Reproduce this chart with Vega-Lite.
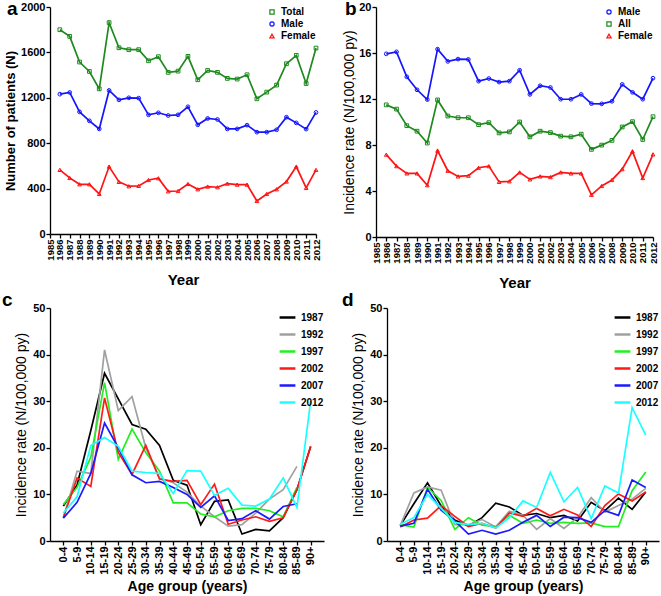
{
  "$schema": "https://vega.github.io/schema/vega-lite/v6.json",
  "background": "white",
  "padding": {"left": 2, "top": 0, "right": 2, "bottom": 0},
  "spacing": 0,
  "config": {
    "font": "Liberation Sans",
    "view": {"stroke": null},
    "axis": {"grid": false, "domainColor": "black", "tickColor": "black", "labelColor": "black", "titleColor": "black", "labelFontWeight": "bold", "titleFontWeight": "bold", "labelFontSize": 11, "titleFontSize": 13, "domainWidth": 1.3, "tickWidth": 1.3, "tickSize": 4, "labelPadding": 1, "labelOverlap": false},
    "legend": {"orient": "top-right", "offset": 0, "title": null, "labelFontSize": 10, "labelFontWeight": "bold", "labelColor": "black", "rowPadding": 2, "padding": 0},
    "title": {"fontSize": 19, "fontWeight": "bold", "anchor": "start", "frame": "group", "color": "black"}
  },
  "resolve": {"scale": {"color": "independent", "shape": "independent"}, "legend": {"color": "independent", "shape": "independent"}},
  "datasets": {
    "a": [
      {"year": 1986, "series": "Total", "value": 1800}, {"year": 1987, "series": "Total", "value": 1741}, {"year": 1988, "series": "Total", "value": 1515}, {"year": 1989, "series": "Total", "value": 1432}, {"year": 1990, "series": "Total", "value": 1279}, {"year": 1991, "series": "Total", "value": 1862}, {"year": 1992, "series": "Total", "value": 1641}, {"year": 1993, "series": "Total", "value": 1624}, {"year": 1994, "series": "Total", "value": 1624}, {"year": 1995, "series": "Total", "value": 1526}, {"year": 1996, "series": "Total", "value": 1562}, {"year": 1997, "series": "Total", "value": 1424}, {"year": 1998, "series": "Total", "value": 1435}, {"year": 1999, "series": "Total", "value": 1565}, {"year": 2000, "series": "Total", "value": 1359}, {"year": 2001, "series": "Total", "value": 1441}, {"year": 2002, "series": "Total", "value": 1424}, {"year": 2003, "series": "Total", "value": 1371}, {"year": 2004, "series": "Total", "value": 1365}, {"year": 2005, "series": "Total", "value": 1403}, {"year": 2006, "series": "Total", "value": 1191}, {"year": 2007, "series": "Total", "value": 1250}, {"year": 2008, "series": "Total", "value": 1312}, {"year": 2009, "series": "Total", "value": 1500}, {"year": 2010, "series": "Total", "value": 1574}, {"year": 2011, "series": "Total", "value": 1326}, {"year": 2012, "series": "Total", "value": 1638},
      {"year": 1986, "series": "Male", "value": 1232}, {"year": 1987, "series": "Male", "value": 1247}, {"year": 1988, "series": "Male", "value": 1076}, {"year": 1989, "series": "Male", "value": 997}, {"year": 1990, "series": "Male", "value": 926}, {"year": 1991, "series": "Male", "value": 1265}, {"year": 1992, "series": "Male", "value": 1182}, {"year": 1993, "series": "Male", "value": 1200}, {"year": 1994, "series": "Male", "value": 1197}, {"year": 1995, "series": "Male", "value": 1050}, {"year": 1996, "series": "Male", "value": 1068}, {"year": 1997, "series": "Male", "value": 1044}, {"year": 1998, "series": "Male", "value": 1050}, {"year": 1999, "series": "Male", "value": 1121}, {"year": 2000, "series": "Male", "value": 962}, {"year": 2001, "series": "Male", "value": 1018}, {"year": 2002, "series": "Male", "value": 1009}, {"year": 2003, "series": "Male", "value": 926}, {"year": 2004, "series": "Male", "value": 926}, {"year": 2005, "series": "Male", "value": 959}, {"year": 2006, "series": "Male", "value": 897}, {"year": 2007, "series": "Male", "value": 897}, {"year": 2008, "series": "Male", "value": 918}, {"year": 2009, "series": "Male", "value": 1029}, {"year": 2010, "series": "Male", "value": 979}, {"year": 2011, "series": "Male", "value": 924}, {"year": 2012, "series": "Male", "value": 1071},
      {"year": 1986, "series": "Female", "value": 565}, {"year": 1987, "series": "Female", "value": 494}, {"year": 1988, "series": "Female", "value": 438}, {"year": 1989, "series": "Female", "value": 438}, {"year": 1990, "series": "Female", "value": 353}, {"year": 1991, "series": "Female", "value": 594}, {"year": 1992, "series": "Female", "value": 459}, {"year": 1993, "series": "Female", "value": 421}, {"year": 1994, "series": "Female", "value": 424}, {"year": 1995, "series": "Female", "value": 476}, {"year": 1996, "series": "Female", "value": 491}, {"year": 1997, "series": "Female", "value": 376}, {"year": 1998, "series": "Female", "value": 379}, {"year": 1999, "series": "Female", "value": 441}, {"year": 2000, "series": "Female", "value": 394}, {"year": 2001, "series": "Female", "value": 418}, {"year": 2002, "series": "Female", "value": 412}, {"year": 2003, "series": "Female", "value": 444}, {"year": 2004, "series": "Female", "value": 435}, {"year": 2005, "series": "Female", "value": 435}, {"year": 2006, "series": "Female", "value": 291}, {"year": 2007, "series": "Female", "value": 353}, {"year": 2008, "series": "Female", "value": 394}, {"year": 2009, "series": "Female", "value": 462}, {"year": 2010, "series": "Female", "value": 594}, {"year": 2011, "series": "Female", "value": 406}, {"year": 2012, "series": "Female", "value": 565}
    ],
    "b": [
      {"year": 1986, "series": "Male", "value": 15.93}, {"year": 1987, "series": "Male", "value": 16.1}, {"year": 1988, "series": "Male", "value": 13.93}, {"year": 1989, "series": "Male", "value": 12.8}, {"year": 1990, "series": "Male", "value": 11.95}, {"year": 1991, "series": "Male", "value": 16.33}, {"year": 1992, "series": "Male", "value": 15.27}, {"year": 1993, "series": "Male", "value": 15.47}, {"year": 1994, "series": "Male", "value": 15.44}, {"year": 1995, "series": "Male", "value": 13.55}, {"year": 1996, "series": "Male", "value": 13.78}, {"year": 1997, "series": "Male", "value": 13.47}, {"year": 1998, "series": "Male", "value": 13.55}, {"year": 1999, "series": "Male", "value": 14.5}, {"year": 2000, "series": "Male", "value": 12.4}, {"year": 2001, "series": "Male", "value": 13.15}, {"year": 2002, "series": "Male", "value": 13.0}, {"year": 2003, "series": "Male", "value": 11.98}, {"year": 2004, "series": "Male", "value": 11.98}, {"year": 2005, "series": "Male", "value": 12.4}, {"year": 2006, "series": "Male", "value": 11.6}, {"year": 2007, "series": "Male", "value": 11.58}, {"year": 2008, "series": "Male", "value": 11.8}, {"year": 2009, "series": "Male", "value": 13.27}, {"year": 2010, "series": "Male", "value": 12.58}, {"year": 2011, "series": "Male", "value": 11.98}, {"year": 2012, "series": "Male", "value": 13.81},
      {"year": 1986, "series": "All", "value": 11.49}, {"year": 1987, "series": "All", "value": 11.12}, {"year": 1988, "series": "All", "value": 9.68}, {"year": 1989, "series": "All", "value": 9.2}, {"year": 1990, "series": "All", "value": 8.17}, {"year": 1991, "series": "All", "value": 11.92}, {"year": 1992, "series": "All", "value": 10.52}, {"year": 1993, "series": "All", "value": 10.37}, {"year": 1994, "series": "All", "value": 10.37}, {"year": 1995, "series": "All", "value": 9.77}, {"year": 1996, "series": "All", "value": 9.94}, {"year": 1997, "series": "All", "value": 9.05}, {"year": 1998, "series": "All", "value": 9.14}, {"year": 1999, "series": "All", "value": 10.0}, {"year": 2000, "series": "All", "value": 8.71}, {"year": 2001, "series": "All", "value": 9.2}, {"year": 2002, "series": "All", "value": 9.08}, {"year": 2003, "series": "All", "value": 8.77}, {"year": 2004, "series": "All", "value": 8.71}, {"year": 2005, "series": "All", "value": 8.94}, {"year": 2006, "series": "All", "value": 7.62}, {"year": 2007, "series": "All", "value": 7.99}, {"year": 2008, "series": "All", "value": 8.4}, {"year": 2009, "series": "All", "value": 9.57}, {"year": 2010, "series": "All", "value": 10.03}, {"year": 2011, "series": "All", "value": 8.48}, {"year": 2012, "series": "All", "value": 10.46},
      {"year": 1986, "series": "Female", "value": 7.16}, {"year": 1987, "series": "Female", "value": 6.16}, {"year": 1988, "series": "Female", "value": 5.53}, {"year": 1989, "series": "Female", "value": 5.53}, {"year": 1990, "series": "Female", "value": 4.5}, {"year": 1991, "series": "Female", "value": 7.51}, {"year": 1992, "series": "Female", "value": 5.76}, {"year": 1993, "series": "Female", "value": 5.27}, {"year": 1994, "series": "Female", "value": 5.33}, {"year": 1995, "series": "Female", "value": 6.02}, {"year": 1996, "series": "Female", "value": 6.16}, {"year": 1997, "series": "Female", "value": 4.79}, {"year": 1998, "series": "Female", "value": 4.84}, {"year": 1999, "series": "Female", "value": 5.62}, {"year": 2000, "series": "Female", "value": 5.01}, {"year": 2001, "series": "Female", "value": 5.27}, {"year": 2002, "series": "Female", "value": 5.21}, {"year": 2003, "series": "Female", "value": 5.62}, {"year": 2004, "series": "Female", "value": 5.53}, {"year": 2005, "series": "Female", "value": 5.53}, {"year": 2006, "series": "Female", "value": 3.67}, {"year": 2007, "series": "Female", "value": 4.44}, {"year": 2008, "series": "Female", "value": 4.96}, {"year": 2009, "series": "Female", "value": 5.9}, {"year": 2010, "series": "Female", "value": 7.45}, {"year": 2011, "series": "Female", "value": 5.13}, {"year": 2012, "series": "Female", "value": 7.19}
    ],
    "c": [
      {"age": "0-4", "cohort": "1987", "value": 7.5}, {"age": "5-9", "cohort": "1987", "value": 12}, {"age": "10-14", "cohort": "1987", "value": 23.7}, {"age": "15-19", "cohort": "1987", "value": 36}, {"age": "20-24", "cohort": "1987", "value": 30.5}, {"age": "25-29", "cohort": "1987", "value": 25}, {"age": "30-34", "cohort": "1987", "value": 24}, {"age": "35-39", "cohort": "1987", "value": 20.5}, {"age": "40-44", "cohort": "1987", "value": 13}, {"age": "45-49", "cohort": "1987", "value": 12}, {"age": "50-54", "cohort": "1987", "value": 3.5}, {"age": "55-59", "cohort": "1987", "value": 8.5}, {"age": "60-64", "cohort": "1987", "value": 8.8}, {"age": "65-69", "cohort": "1987", "value": 1.5}, {"age": "70-74", "cohort": "1987", "value": 2.5}, {"age": "75-79", "cohort": "1987", "value": 2.2}, {"age": "80-84", "cohort": "1987", "value": 5}, {"age": "85-89", "cohort": "1987", "value": 11}, {"age": "90+", "cohort": "1987", "value": 20.3},
      {"age": "0-4", "cohort": "1992", "value": 5}, {"age": "5-9", "cohort": "1992", "value": 15}, {"age": "10-14", "cohort": "1992", "value": 14.5}, {"age": "15-19", "cohort": "1992", "value": 41}, {"age": "20-24", "cohort": "1992", "value": 28}, {"age": "25-29", "cohort": "1992", "value": 31}, {"age": "30-34", "cohort": "1992", "value": 20}, {"age": "35-39", "cohort": "1992", "value": 13.5}, {"age": "40-44", "cohort": "1992", "value": 12.5}, {"age": "45-49", "cohort": "1992", "value": 10.5}, {"age": "50-54", "cohort": "1992", "value": 7.5}, {"age": "55-59", "cohort": "1992", "value": 5.2}, {"age": "60-64", "cohort": "1992", "value": 3.2}, {"age": "65-69", "cohort": "1992", "value": 3.5}, {"age": "70-74", "cohort": "1992", "value": 6}, {"age": "75-79", "cohort": "1992", "value": 9}, {"age": "80-84", "cohort": "1992", "value": 11}, {"age": "85-89", "cohort": "1992", "value": 16},
      {"age": "0-4", "cohort": "1997", "value": 7.8}, {"age": "5-9", "cohort": "1997", "value": 11.5}, {"age": "10-14", "cohort": "1997", "value": 18}, {"age": "15-19", "cohort": "1997", "value": 34}, {"age": "20-24", "cohort": "1997", "value": 17.5}, {"age": "25-29", "cohort": "1997", "value": 24}, {"age": "30-34", "cohort": "1997", "value": 19}, {"age": "35-39", "cohort": "1997", "value": 15}, {"age": "40-44", "cohort": "1997", "value": 8.2}, {"age": "45-49", "cohort": "1997", "value": 8.2}, {"age": "50-54", "cohort": "1997", "value": 5.8}, {"age": "55-59", "cohort": "1997", "value": 5.2}, {"age": "60-64", "cohort": "1997", "value": 6.5}, {"age": "65-69", "cohort": "1997", "value": 7}, {"age": "70-74", "cohort": "1997", "value": 7}, {"age": "75-79", "cohort": "1997", "value": 6.5}, {"age": "80-84", "cohort": "1997", "value": 5.2}, {"age": "85-89", "cohort": "1997", "value": 11.5},
      {"age": "0-4", "cohort": "2002", "value": 5}, {"age": "5-9", "cohort": "2002", "value": 13.5}, {"age": "10-14", "cohort": "2002", "value": 11.7}, {"age": "15-19", "cohort": "2002", "value": 30.7}, {"age": "20-24", "cohort": "2002", "value": 19}, {"age": "25-29", "cohort": "2002", "value": 14.3}, {"age": "30-34", "cohort": "2002", "value": 20.5}, {"age": "35-39", "cohort": "2002", "value": 13.3}, {"age": "40-44", "cohort": "2002", "value": 12.8}, {"age": "45-49", "cohort": "2002", "value": 13}, {"age": "50-54", "cohort": "2002", "value": 7.8}, {"age": "55-59", "cohort": "2002", "value": 12.2}, {"age": "60-64", "cohort": "2002", "value": 3.6}, {"age": "65-69", "cohort": "2002", "value": 4.5}, {"age": "70-74", "cohort": "2002", "value": 5.2}, {"age": "75-79", "cohort": "2002", "value": 4.2}, {"age": "80-84", "cohort": "2002", "value": 5}, {"age": "85-89", "cohort": "2002", "value": 11}, {"age": "90+", "cohort": "2002", "value": 20.3},
      {"age": "0-4", "cohort": "2007", "value": 4.9}, {"age": "5-9", "cohort": "2007", "value": 8.3}, {"age": "10-14", "cohort": "2007", "value": 14.5}, {"age": "15-19", "cohort": "2007", "value": 25.3}, {"age": "20-24", "cohort": "2007", "value": 20}, {"age": "25-29", "cohort": "2007", "value": 14.2}, {"age": "30-34", "cohort": "2007", "value": 12.5}, {"age": "35-39", "cohort": "2007", "value": 12.8}, {"age": "40-44", "cohort": "2007", "value": 11.5}, {"age": "45-49", "cohort": "2007", "value": 10}, {"age": "50-54", "cohort": "2007", "value": 7.2}, {"age": "55-59", "cohort": "2007", "value": 9.7}, {"age": "60-64", "cohort": "2007", "value": 4.4}, {"age": "65-69", "cohort": "2007", "value": 4.8}, {"age": "70-74", "cohort": "2007", "value": 6.5}, {"age": "75-79", "cohort": "2007", "value": 4.7}, {"age": "80-84", "cohort": "2007", "value": 7.4}, {"age": "85-89", "cohort": "2007", "value": 8},
      {"age": "0-4", "cohort": "2012", "value": 6}, {"age": "5-9", "cohort": "2012", "value": 9.5}, {"age": "10-14", "cohort": "2012", "value": 20.5}, {"age": "15-19", "cohort": "2012", "value": 22.2}, {"age": "20-24", "cohort": "2012", "value": 20.3}, {"age": "25-29", "cohort": "2012", "value": 15}, {"age": "30-34", "cohort": "2012", "value": 14.7}, {"age": "35-39", "cohort": "2012", "value": 14.5}, {"age": "40-44", "cohort": "2012", "value": 10.2}, {"age": "45-49", "cohort": "2012", "value": 15.1}, {"age": "50-54", "cohort": "2012", "value": 15}, {"age": "55-59", "cohort": "2012", "value": 9.8}, {"age": "60-64", "cohort": "2012", "value": 11.3}, {"age": "65-69", "cohort": "2012", "value": 7.7}, {"age": "70-74", "cohort": "2012", "value": 7.5}, {"age": "75-79", "cohort": "2012", "value": 9}, {"age": "80-84", "cohort": "2012", "value": 13.5}, {"age": "85-89", "cohort": "2012", "value": 7.2}, {"age": "90+", "cohort": "2012", "value": 30}
    ],
    "d": [
      {"age": "0-4", "cohort": "1987", "value": 3.3}, {"age": "5-9", "cohort": "1987", "value": 8}, {"age": "10-14", "cohort": "1987", "value": 12.5}, {"age": "15-19", "cohort": "1987", "value": 7.5}, {"age": "20-24", "cohort": "1987", "value": 4.5}, {"age": "25-29", "cohort": "1987", "value": 3.2}, {"age": "30-34", "cohort": "1987", "value": 5}, {"age": "35-39", "cohort": "1987", "value": 8.1}, {"age": "40-44", "cohort": "1987", "value": 7.3}, {"age": "45-49", "cohort": "1987", "value": 5.5}, {"age": "50-54", "cohort": "1987", "value": 5.9}, {"age": "55-59", "cohort": "1987", "value": 5}, {"age": "60-64", "cohort": "1987", "value": 5.5}, {"age": "65-69", "cohort": "1987", "value": 4.3}, {"age": "70-74", "cohort": "1987", "value": 8.3}, {"age": "75-79", "cohort": "1987", "value": 6.5}, {"age": "80-84", "cohort": "1987", "value": 9.2}, {"age": "85-89", "cohort": "1987", "value": 6.8}, {"age": "90+", "cohort": "1987", "value": 10.5},
      {"age": "0-4", "cohort": "1992", "value": 3.3}, {"age": "5-9", "cohort": "1992", "value": 10.3}, {"age": "10-14", "cohort": "1992", "value": 11.6}, {"age": "15-19", "cohort": "1992", "value": 10.9}, {"age": "20-24", "cohort": "1992", "value": 3.5}, {"age": "25-29", "cohort": "1992", "value": 3.5}, {"age": "30-34", "cohort": "1992", "value": 4.6}, {"age": "35-39", "cohort": "1992", "value": 3}, {"age": "40-44", "cohort": "1992", "value": 6.4}, {"age": "45-49", "cohort": "1992", "value": 5.5}, {"age": "50-54", "cohort": "1992", "value": 2.5}, {"age": "55-59", "cohort": "1992", "value": 4.8}, {"age": "60-64", "cohort": "1992", "value": 2.7}, {"age": "65-69", "cohort": "1992", "value": 5}, {"age": "70-74", "cohort": "1992", "value": 9.3}, {"age": "75-79", "cohort": "1992", "value": 6.2}, {"age": "80-84", "cohort": "1992", "value": 7.6}, {"age": "85-89", "cohort": "1992", "value": 9}, {"age": "90+", "cohort": "1992", "value": 11.3},
      {"age": "0-4", "cohort": "1997", "value": 3.5}, {"age": "5-9", "cohort": "1997", "value": 3}, {"age": "10-14", "cohort": "1997", "value": 11.5}, {"age": "15-19", "cohort": "1997", "value": 8.7}, {"age": "20-24", "cohort": "1997", "value": 2.5}, {"age": "25-29", "cohort": "1997", "value": 5}, {"age": "30-34", "cohort": "1997", "value": 3.4}, {"age": "35-39", "cohort": "1997", "value": 3.1}, {"age": "40-44", "cohort": "1997", "value": 5.5}, {"age": "45-49", "cohort": "1997", "value": 3.8}, {"age": "50-54", "cohort": "1997", "value": 4.5}, {"age": "55-59", "cohort": "1997", "value": 3.8}, {"age": "60-64", "cohort": "1997", "value": 4}, {"age": "65-69", "cohort": "1997", "value": 3.8}, {"age": "70-74", "cohort": "1997", "value": 3.9}, {"age": "75-79", "cohort": "1997", "value": 3.1}, {"age": "80-84", "cohort": "1997", "value": 3.1}, {"age": "85-89", "cohort": "1997", "value": 10.8}, {"age": "90+", "cohort": "1997", "value": 14.8},
      {"age": "0-4", "cohort": "2002", "value": 3}, {"age": "5-9", "cohort": "2002", "value": 4.5}, {"age": "10-14", "cohort": "2002", "value": 4.9}, {"age": "15-19", "cohort": "2002", "value": 7.6}, {"age": "20-24", "cohort": "2002", "value": 5.3}, {"age": "25-29", "cohort": "2002", "value": 3.1}, {"age": "30-34", "cohort": "2002", "value": 3.8}, {"age": "35-39", "cohort": "2002", "value": 2.8}, {"age": "40-44", "cohort": "2002", "value": 6}, {"age": "45-49", "cohort": "2002", "value": 5.3}, {"age": "50-54", "cohort": "2002", "value": 7}, {"age": "55-59", "cohort": "2002", "value": 5.4}, {"age": "60-64", "cohort": "2002", "value": 6.8}, {"age": "65-69", "cohort": "2002", "value": 5.6}, {"age": "70-74", "cohort": "2002", "value": 3.1}, {"age": "75-79", "cohort": "2002", "value": 7.6}, {"age": "80-84", "cohort": "2002", "value": 10.1}, {"age": "85-89", "cohort": "2002", "value": 8.6}, {"age": "90+", "cohort": "2002", "value": 10.5},
      {"age": "0-4", "cohort": "2007", "value": 3.2}, {"age": "5-9", "cohort": "2007", "value": 3.8}, {"age": "10-14", "cohort": "2007", "value": 11.1}, {"age": "15-19", "cohort": "2007", "value": 6.6}, {"age": "20-24", "cohort": "2007", "value": 4.3}, {"age": "25-29", "cohort": "2007", "value": 1.5}, {"age": "30-34", "cohort": "2007", "value": 2.3}, {"age": "35-39", "cohort": "2007", "value": 1.5}, {"age": "40-44", "cohort": "2007", "value": 2.3}, {"age": "45-49", "cohort": "2007", "value": 4}, {"age": "50-54", "cohort": "2007", "value": 5.5}, {"age": "55-59", "cohort": "2007", "value": 3.1}, {"age": "60-64", "cohort": "2007", "value": 5.1}, {"age": "65-69", "cohort": "2007", "value": 5}, {"age": "70-74", "cohort": "2007", "value": 4}, {"age": "75-79", "cohort": "2007", "value": 6.5}, {"age": "80-84", "cohort": "2007", "value": 5.5}, {"age": "85-89", "cohort": "2007", "value": 13.1}, {"age": "90+", "cohort": "2007", "value": 11.5},
      {"age": "0-4", "cohort": "2012", "value": 3.6}, {"age": "5-9", "cohort": "2012", "value": 5}, {"age": "10-14", "cohort": "2012", "value": 10}, {"age": "15-19", "cohort": "2012", "value": 7}, {"age": "20-24", "cohort": "2012", "value": 4}, {"age": "25-29", "cohort": "2012", "value": 3.5}, {"age": "30-34", "cohort": "2012", "value": 3.8}, {"age": "35-39", "cohort": "2012", "value": 2.8}, {"age": "40-44", "cohort": "2012", "value": 5}, {"age": "45-49", "cohort": "2012", "value": 8.6}, {"age": "50-54", "cohort": "2012", "value": 7.2}, {"age": "55-59", "cohort": "2012", "value": 14.7}, {"age": "60-64", "cohort": "2012", "value": 8.4}, {"age": "65-69", "cohort": "2012", "value": 11.5}, {"age": "70-74", "cohort": "2012", "value": 4.8}, {"age": "75-79", "cohort": "2012", "value": 11.8}, {"age": "80-84", "cohort": "2012", "value": 10.3}, {"age": "85-89", "cohort": "2012", "value": 28.6}, {"age": "90+", "cohort": "2012", "value": 22.7}
    ]
  },
  "vconcat": [
    {
      "spacing": 21,
      "resolve": {"scale": {"color": "independent", "shape": "independent"}, "legend": {"color": "independent", "shape": "independent"}},
      "hconcat": [
        {
          "width": 266, "height": 227,
          "title": {"text": "a", "dx": -43, "offset": -18},
          "data": {"name": "a"},
          "encoding": {
            "x": {"field": "year", "type": "quantitative", "scale": {"domain": [1985, 2012], "nice": false, "zero": false},
              "axis": {"values": [1985,1986,1987,1988,1989,1990,1991,1992,1993,1994,1995,1996,1997,1998,1999,2000,2001,2002,2003,2004,2005,2006,2007,2008,2009,2010,2011,2012], "format": "d", "labelAngle": -90, "labelFontSize": 9.5, "title": "Year", "titleFontSize": 15, "titlePadding": 12}},
            "y": {"field": "value", "type": "quantitative", "scale": {"domain": [0, 2000], "nice": false},
              "axis": {"values": [0, 400, 800, 1200, 1600, 2000], "format": "d", "title": "Number of patients (N)", "titlePadding": 3}},
            "color": {"field": "series", "type": "nominal", "scale": {"domain": ["Total", "Male", "Female"], "range": ["#1e8a1e", "#1414ff", "#ff1414"]}, "legend": {"symbolSize": 18, "symbolStrokeWidth": 1.2}}
          },
          "layer": [
            {"mark": {"type": "line", "strokeWidth": 1.7}},
            {"mark": {"type": "point", "filled": false, "size": 14, "strokeWidth": 1, "opacity": 1},
             "encoding": {"shape": {"field": "series", "type": "nominal", "scale": {"domain": ["Total", "Male", "Female"], "range": ["square", "circle", "triangle-up"]}}}}
          ]
        },
        {
          "width": 277, "height": 230,
          "title": {"text": "b", "dx": -31, "offset": -18},
          "data": {"name": "b"},
          "encoding": {
            "x": {"field": "year", "type": "quantitative", "scale": {"domain": [1985, 2012], "nice": false, "zero": false},
              "axis": {"values": [1985,1986,1987,1988,1989,1990,1991,1992,1993,1994,1995,1996,1997,1998,1999,2000,2001,2002,2003,2004,2005,2006,2007,2008,2009,2010,2011,2012], "format": "d", "labelAngle": -90, "labelFontSize": 9.5, "title": "Year", "titleFontSize": 15, "titlePadding": 12}},
            "y": {"field": "value", "type": "quantitative", "scale": {"domain": [0, 20], "nice": false},
              "axis": {"values": [0, 4, 8, 12, 16, 20], "title": "Incidence rate (N/100,000 py)", "titleFontWeight": "normal", "titleFontSize": 14, "titlePadding": 2}},
            "color": {"field": "series", "type": "nominal", "scale": {"domain": ["Male", "All", "Female"], "range": ["#1414ff", "#1e8a1e", "#ff1414"]}, "legend": {"symbolSize": 18, "symbolStrokeWidth": 1.2}}
          },
          "layer": [
            {"mark": {"type": "line", "strokeWidth": 1.7}},
            {"mark": {"type": "point", "filled": false, "size": 14, "strokeWidth": 1, "opacity": 1},
             "encoding": {"shape": {"field": "series", "type": "nominal", "scale": {"domain": ["Male", "All", "Female"], "range": ["circle", "square", "triangle-up"]}}}}
          ]
        }
      ]
    },
    {
      "spacing": 18,
      "resolve": {"scale": {"color": "independent"}, "legend": {"color": "independent"}},
      "hconcat": [
        {
          "width": 274, "height": 233,
          "title": {"text": "c", "dx": -48, "offset": -8},
          "data": {"name": "c"},
          "mark": {"type": "line", "strokeWidth": 1.7},
          "encoding": {
            "x": {"field": "age", "type": "ordinal", "scale": {"type": "point", "padding": 0.97, "domain": ["0-4","5-9","10-14","15-19","20-24","25-29","30-34","35-39","40-44","45-49","50-54","55-59","60-64","65-69","70-74","75-79","80-84","85-89","90+"]},
              "axis": {"labelAngle": -90, "labelFontSize": 11, "title": "Age group (years)", "titleFontSize": 14, "titlePadding": 5}},
            "y": {"field": "value", "type": "quantitative", "scale": {"domain": [0, 50], "nice": false},
              "axis": {"values": [0, 10, 20, 30, 40, 50], "title": "Incidence rate (N/100,000 py)", "titleFontWeight": "normal", "titleFontSize": 14, "titlePadding": 4}},
            "color": {"field": "cohort", "type": "nominal", "scale": {"domain": ["1987","1992","1997","2002","2007","2012"], "range": ["#000000", "#a0a0a0", "#22ee22", "#ff1a1a", "#1a1aff", "#1affff"]},
              "legend": {"symbolType": "stroke", "symbolStrokeWidth": 2.5, "symbolSize": 250, "labelFontSize": 10}}
          }
        },
        {
          "width": 272, "height": 233,
          "title": {"text": "d", "dx": -45, "offset": -8},
          "data": {"name": "d"},
          "mark": {"type": "line", "strokeWidth": 1.7},
          "encoding": {
            "x": {"field": "age", "type": "ordinal", "scale": {"type": "point", "padding": 0.97, "domain": ["0-4","5-9","10-14","15-19","20-24","25-29","30-34","35-39","40-44","45-49","50-54","55-59","60-64","65-69","70-74","75-79","80-84","85-89","90+"]},
              "axis": {"labelAngle": -90, "labelFontSize": 11, "title": "Age group (years)", "titleFontSize": 14, "titlePadding": 5}},
            "y": {"field": "value", "type": "quantitative", "scale": {"domain": [0, 50], "nice": false},
              "axis": {"values": [0, 10, 20, 30, 40, 50], "title": "Incidence rate (N/100,000 py)", "titleFontWeight": "normal", "titleFontSize": 14, "titlePadding": 4}},
            "color": {"field": "cohort", "type": "nominal", "scale": {"domain": ["1987","1992","1997","2002","2007","2012"], "range": ["#000000", "#a0a0a0", "#22ee22", "#ff1a1a", "#1a1aff", "#1affff"]},
              "legend": {"symbolType": "stroke", "symbolStrokeWidth": 2.5, "symbolSize": 250, "labelFontSize": 10}}
          }
        }
      ]
    }
  ]
}
